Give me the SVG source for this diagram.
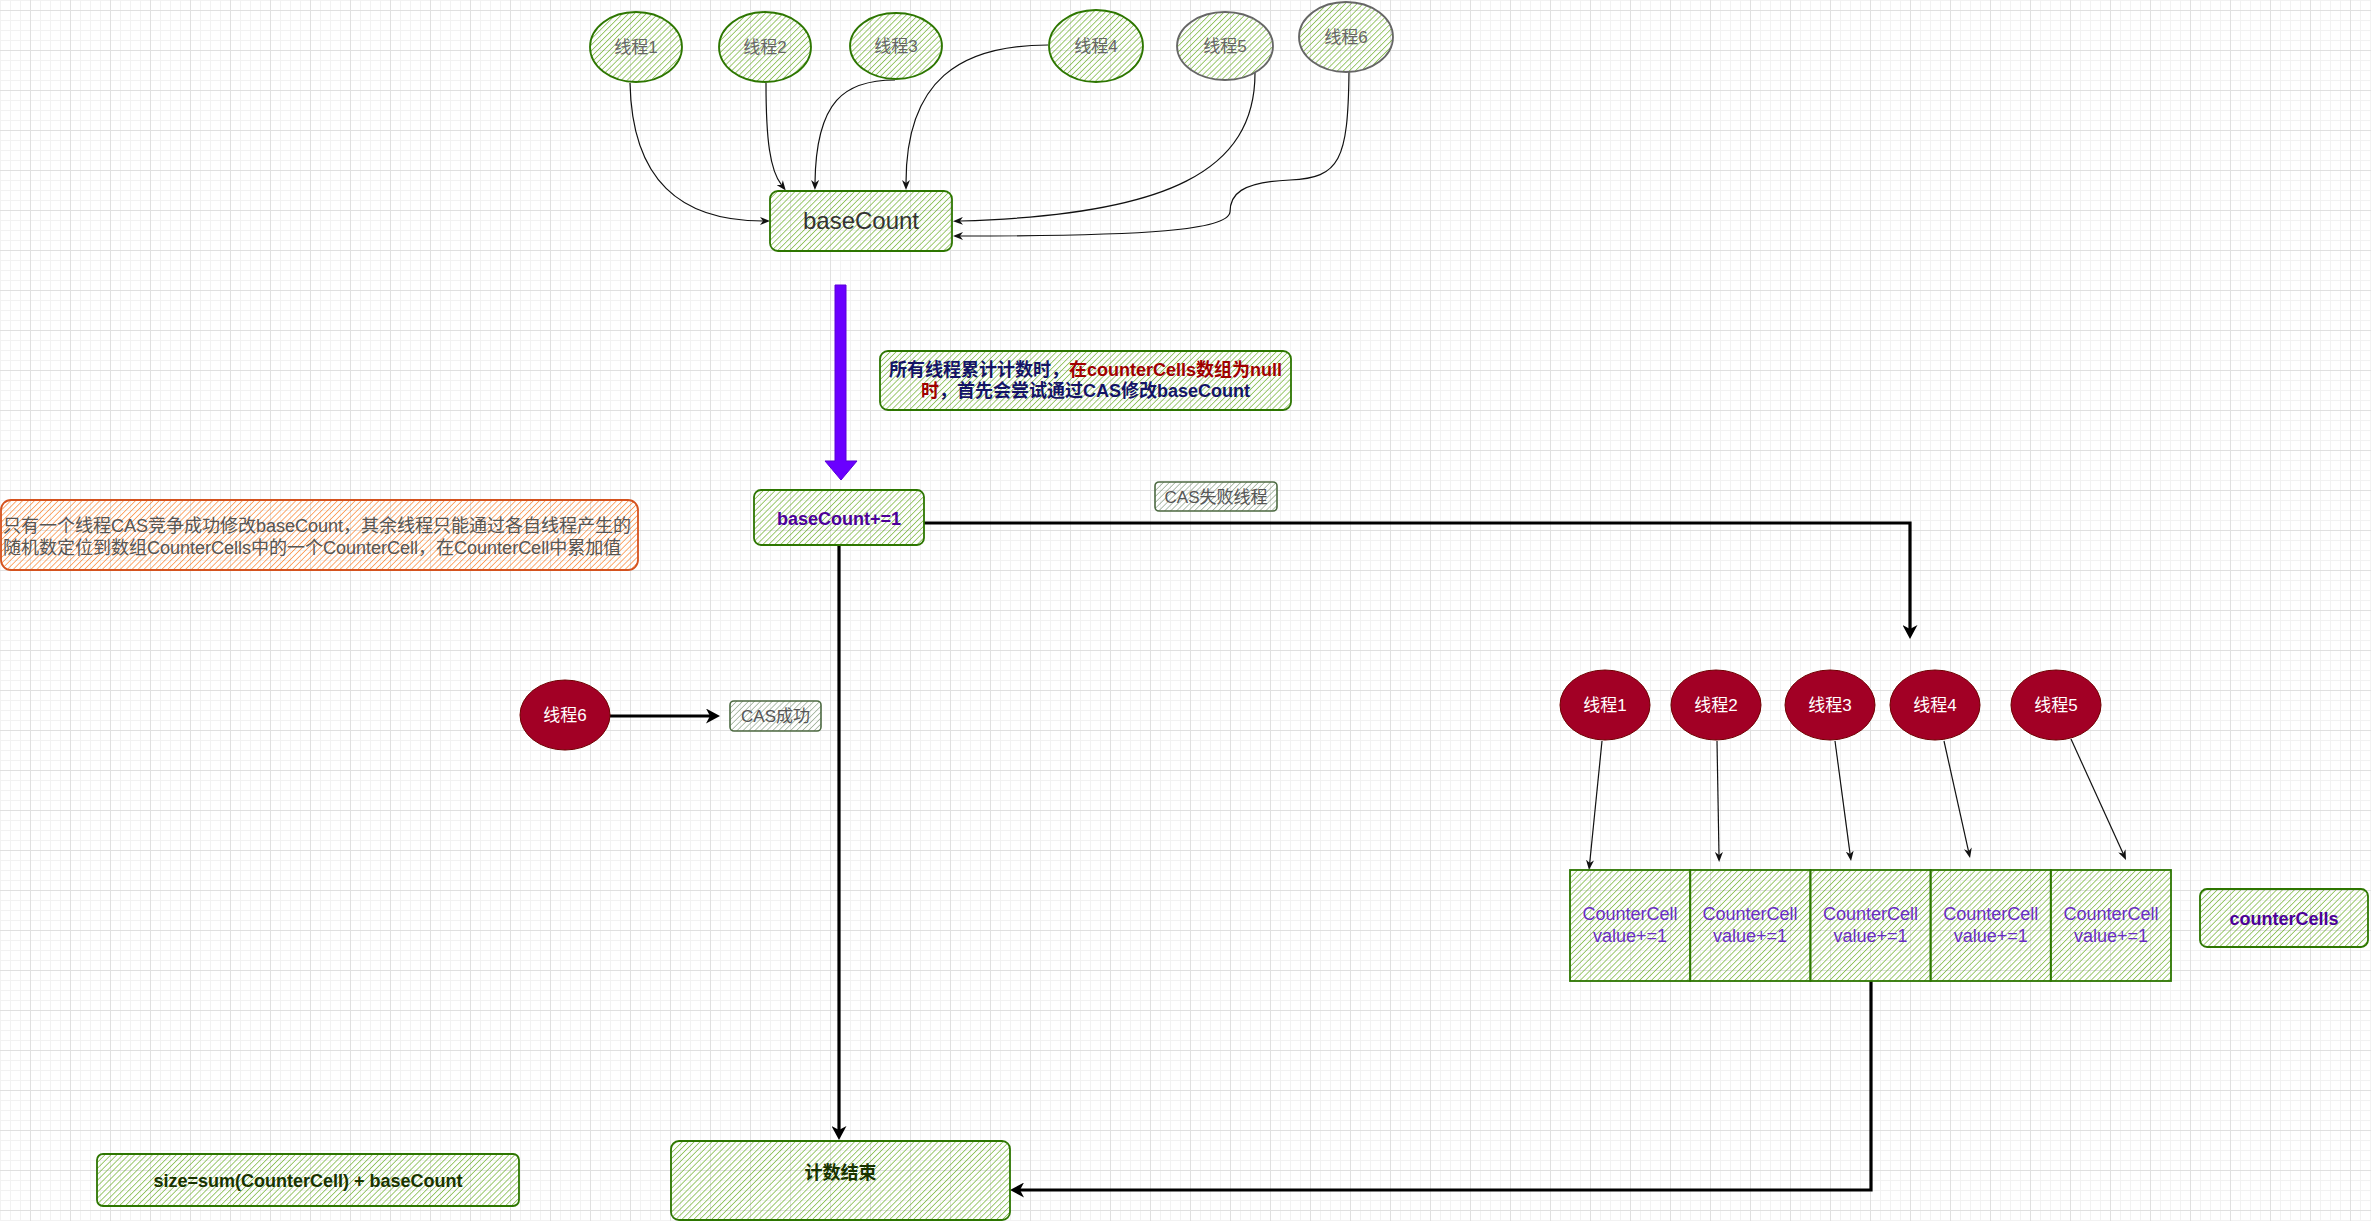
<svg xmlns="http://www.w3.org/2000/svg" width="2371" height="1221" viewBox="0 0 2371 1221">
<defs>
<style>
text{font-family:"Liberation Sans","Noto Sans CJK SC",sans-serif;}
.g{fill:url(#hg);stroke:#2D7600;stroke-width:1.8;}
.gy{fill:url(#hg);stroke:#666666;stroke-width:1.8;}
.cas{fill:url(#hc);stroke:#4d6a42;stroke-width:1.6;}
.or{fill:url(#ho);stroke:#d4521e;stroke-width:1.8;}
.red{fill:#a20025;stroke:#6F0000;stroke-width:1;}
.thin{fill:none;stroke:#111;stroke-width:1.2;marker-end:url(#ms);}
.thick{fill:none;stroke:#000;stroke-width:3.2;marker-end:url(#mb);}
.tg{font-size:17px;fill:#666;text-anchor:middle;}
.tw{font-size:17px;fill:#fff;text-anchor:middle;}
.cell{font-size:18px;fill:#6a2dc4;text-anchor:middle;}
.b18{font-size:18px;font-weight:bold;text-anchor:middle;}
</style>
<pattern id="minor" width="10" height="10" patternUnits="userSpaceOnUse">
<path d="M0.5,0V10M0,0.5H10" stroke="#f2f2f2" stroke-width="1" fill="none"/>
</pattern>
<pattern id="major" x="30" y="10" width="40" height="40" patternUnits="userSpaceOnUse">
<path d="M0.5,0V40M0,0.5H40" stroke="#e0e0e0" stroke-width="1" fill="none"/>
</pattern>
<pattern id="hg" width="4.2" height="4.2" patternUnits="userSpaceOnUse" patternTransform="rotate(45)">
<line x1="0" y1="0" x2="0" y2="4.2" stroke="#60a917" stroke-opacity="0.7" stroke-width="1.7"/>
</pattern>
<pattern id="hc" width="4.2" height="4.2" patternUnits="userSpaceOnUse" patternTransform="rotate(45)">
<line x1="0" y1="0" x2="0" y2="4.2" stroke="#6d8764" stroke-opacity="0.7" stroke-width="1.5"/>
</pattern>
<pattern id="ho" width="4.2" height="4.2" patternUnits="userSpaceOnUse" patternTransform="rotate(45)">
<line x1="0" y1="0" x2="0" y2="4.2" stroke="#fa6800" stroke-opacity="0.65" stroke-width="1.7"/>
</pattern>
<marker id="ms" viewBox="0 0 10 8" refX="3" refY="4" markerWidth="10" markerHeight="8" markerUnits="userSpaceOnUse" orient="auto">
<path d="M0,0L10,4L0,8L3,4Z" fill="#111"/>
</marker>
<marker id="mb" viewBox="0 0 14 15" refX="4" refY="7.5" markerWidth="14" markerHeight="15" markerUnits="userSpaceOnUse" orient="auto">
<path d="M0,0L14,7.5L0,15L4,7.5Z" fill="#000"/>
</marker>
</defs>
<rect width="2371" height="1221" fill="#fff"/>
<rect width="2371" height="1221" fill="url(#minor)"/>
<rect width="2371" height="1221" fill="url(#major)"/>

<g id="connectors">
<path class="thin" d="M630,83 C632,180 680,221 763,221"/>
<path class="thin" d="M766,83 C766,140 770,170 781.5,185"/>
<path class="thin" d="M895,80 C845,80 816,100 815,183"/>
<path class="thin" d="M1048,45 C960,45 906,80 906,183"/>
<path class="thin" d="M1255,73 C1255,170 1170,215 960,221"/>
<path class="thin" d="M1349,72 C1348,160 1340,178 1290,180 C1240,182 1230,195 1230,212 C1228,230 1150,236 960,236"/>
<path d="M835,285H846V461H857L841,480L825,461H835Z" fill="#6a00ff" stroke="#5a00d8" stroke-width="1"/>
<path class="thick" d="M924,523H1910V629"/>
<path class="thick" d="M839,546V1130"/>
<path class="thick" d="M610,716H710"/>
<path class="thick" d="M1871,981V1190H1020"/>
<path class="thin" d="M1602,741L1589.7,863"/>
<path class="thin" d="M1717,741L1719,855"/>
<path class="thin" d="M1835,741L1850.1,854.1"/>
<path class="thin" d="M1944,741L1968.5,851.2"/>
<path class="thin" d="M2071,739L2123.1,853.6"/>
</g>

<g id="t1"><ellipse class="g" cx="636" cy="47" rx="46" ry="35"/><text class="tg" x="636" y="53">线程1</text></g>
<g id="t2"><ellipse class="g" cx="765" cy="47" rx="46" ry="35"/><text class="tg" x="765" y="53">线程2</text></g>
<g id="t3"><ellipse class="g" cx="896" cy="46" rx="46" ry="33"/><text class="tg" x="896" y="52">线程3</text></g>
<g id="t4"><ellipse class="g" cx="1096" cy="46" rx="47" ry="36"/><text class="tg" x="1096" y="52">线程4</text></g>
<g id="t5"><ellipse class="gy" cx="1225" cy="46" rx="48" ry="34"/><text class="tg" x="1225" y="52">线程5</text></g>
<g id="t6"><ellipse class="gy" cx="1346" cy="37" rx="47" ry="35"/><text class="tg" x="1346" y="43">线程6</text></g>

<g id="baseCount"><rect class="g" x="770" y="191" width="182" height="60" rx="8"/><text x="861" y="229" font-size="24" fill="#333" text-anchor="middle">baseCount</text></g>

<g id="note1"><rect class="g" x="880" y="351" width="411" height="59" rx="8"/>
<text class="b18" x="1085.5" y="375.5" fill="#141466">所有线程累计计数时，<tspan fill="#a00000">在counterCells数组为null</tspan></text>
<text class="b18" x="1085.5" y="396.5" fill="#141466"><tspan fill="#a00000">时</tspan>，首先会尝试通过CAS修改baseCount</text></g>

<g id="inc"><rect class="g" x="754" y="490" width="170" height="55" rx="7"/><text x="839" y="524.5" font-size="18" font-weight="bold" fill="#4C0099" text-anchor="middle">baseCount+=1</text></g>

<g id="casFail"><rect class="cas" x="1155" y="482" width="122" height="29" rx="4"/><text x="1216" y="503" font-size="17" fill="#555" text-anchor="middle">CAS失败线程</text></g>

<g id="noteOrange"><rect class="or" x="1" y="500" width="637" height="70" rx="10"/>
<text x="3" y="531.5" font-size="18" fill="#555">只有一个线程CAS竞争成功修改baseCount，其余线程只能通过各自线程产生的</text>
<text x="3" y="553.5" font-size="18" fill="#555">随机数定位到数组CounterCells中的一个CounterCell，在CounterCell中累加值</text></g>

<g id="r6"><ellipse class="red" cx="565" cy="715" rx="45" ry="35"/><text class="tw" x="565" y="721">线程6</text></g>
<g id="casOk"><rect class="cas" x="730" y="701" width="91" height="30" rx="4"/><text x="775.5" y="722" font-size="17" fill="#555" text-anchor="middle">CAS成功</text></g>

<g id="r1"><ellipse class="red" cx="1605" cy="705" rx="45" ry="35"/><text class="tw" x="1605" y="711">线程1</text></g>
<g id="r2"><ellipse class="red" cx="1716" cy="705" rx="45" ry="35"/><text class="tw" x="1716" y="711">线程2</text></g>
<g id="r3"><ellipse class="red" cx="1830" cy="705" rx="45" ry="35"/><text class="tw" x="1830" y="711">线程3</text></g>
<g id="r4"><ellipse class="red" cx="1935" cy="705" rx="45" ry="35"/><text class="tw" x="1935" y="711">线程4</text></g>
<g id="r5"><ellipse class="red" cx="2056" cy="705" rx="45" ry="35"/><text class="tw" x="2056" y="711">线程5</text></g>

<g id="cells">
<rect class="g" x="1570" y="870" width="120.2" height="111"/>
<rect class="g" x="1690.2" y="870" width="120.2" height="111"/>
<rect class="g" x="1810.4" y="870" width="120.2" height="111"/>
<rect class="g" x="1930.6" y="870" width="120.2" height="111"/>
<rect class="g" x="2050.8" y="870" width="120.2" height="111"/>
<text class="cell" x="1630" y="919.5">CounterCell</text><text class="cell" x="1630" y="941.5">value+=1</text>
<text class="cell" x="1750" y="919.5">CounterCell</text><text class="cell" x="1750" y="941.5">value+=1</text>
<text class="cell" x="1870.5" y="919.5">CounterCell</text><text class="cell" x="1870.5" y="941.5">value+=1</text>
<text class="cell" x="1990.7" y="919.5">CounterCell</text><text class="cell" x="1990.7" y="941.5">value+=1</text>
<text class="cell" x="2111" y="919.5">CounterCell</text><text class="cell" x="2111" y="941.5">value+=1</text>
</g>

<g id="counterCells"><rect class="g" x="2200" y="889" width="168" height="58" rx="7"/><text class="b18" x="2284" y="924.5" fill="#4C0099">counterCells</text></g>

<g id="end"><rect class="g" x="671" y="1141" width="339" height="79" rx="8"/><text class="b18" x="840.5" y="1178.5" fill="#193300">计数结束</text></g>

<g id="size"><rect class="g" x="97" y="1154" width="422" height="52" rx="6"/><text class="b18" x="308" y="1186.5" fill="#193300">size=sum(CounterCell) + baseCount</text></g>
</svg>
